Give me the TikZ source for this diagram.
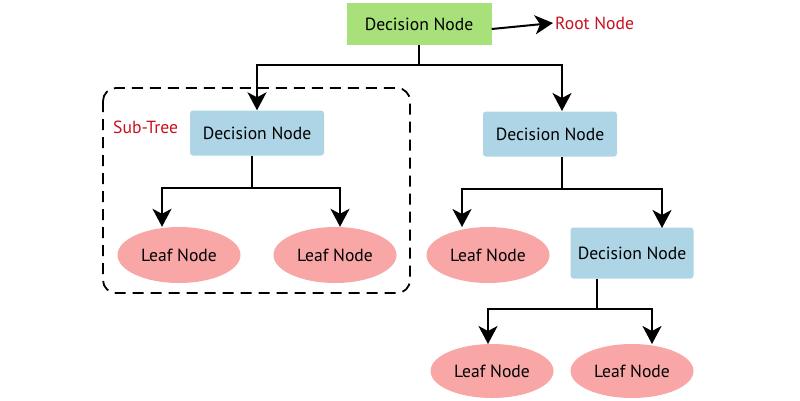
\documentclass[tikz,border=0pt]{standalone}
\usepackage{fontspec}
\setmainfont{PT Sans}
\usetikzlibrary{arrows.meta,shapes.geometric}
\definecolor{rootgreen}{RGB}{168,224,122}
\definecolor{decblue}{RGB}{174,213,229}
\definecolor{leafpink}{RGB}{248,166,166}
\definecolor{labelred}{RGB}{200,16,30}
\begin{document}
\begin{tikzpicture}[x=1pt,y=-1pt,
  font=\fontsize{17.6}{20}\selectfont,
  rootbox/.style={fill=rootgreen,minimum width=145pt,minimum height=42pt,inner sep=0pt},
  decbox/.style={fill=decblue,rounded corners=3pt,minimum width=134pt,minimum height=45pt,inner sep=0pt},
  leaf/.style={ellipse,fill=leafpink,minimum width=123pt,minimum height=56pt,inner sep=0pt},
  conn/.style={line width=2pt,-{Stealth[length=18pt,width=19pt,inset=5pt]}},
  plain/.style={line width=2pt},
  redlabel/.style={text=labelred,inner sep=0pt}]
\useasboundingbox (0,0) rectangle (800,400);
\node[rootbox] (root) at (419,24) {Decision Node};
\node[redlabel,anchor=west] (rootlbl) at (555,23) {Root Node};
\node[decbox] (d1) at (257,133) {Decision Node};
\node[decbox] (d2) at (550,134) {Decision Node};
\node[leaf] (l1) at (179,255) {Leaf Node};
\node[leaf] (l2) at (335,255) {Leaf Node};
\node[leaf] (l3) at (488,255) {Leaf Node};
\node[decbox,minimum width=123pt,minimum height=51pt] (d3) at (632,253) {Decision Node};
\node[leaf,minimum height=54pt] (l4) at (492,371) {Leaf Node};
\node[leaf,minimum height=54pt] (l5) at (632,371) {Leaf Node};
\node[redlabel,anchor=west] (sub) at (113,127) {Sub-Tree};
\draw[line width=1.8pt,dash pattern=on 11pt off 7pt,rounded corners=13pt] (103,88) rectangle (410,293);
% root arrow
\draw[conn] (root.east) ++(0,5) -- ([xshift=-2pt]rootlbl.west);
% root branches
\coordinate (rj) at (419,65);
\draw[plain] (root.south) -- (rj);
\draw[conn] (rj) -| (d1.north);
\draw[conn] (rj) -| (562,111) coordinate (d2t);
% d1 branches
\coordinate (j1) at (252,188);
\draw[plain] (d1.south -| j1) -- (j1);
\draw[conn] (j1) -| (l1.north -| 162,0) ;
\draw[conn] (j1) -| (l2.north -| 340,0);
% d2 branches
\coordinate (j2) at (562,189);
\draw[plain] (d2.south -| j2) -- (j2);
\draw[conn] (j2) -| (462,227);
\draw[conn] (j2) -| (662,228);
% d3 branches
\coordinate (j3) at (597,309);
\draw[plain] (d3.south -| j3) -- (j3);
\draw[conn] (j3) -| (488,344);
\draw[conn] (j3) -| (652,344);
\end{tikzpicture}
\end{document}
